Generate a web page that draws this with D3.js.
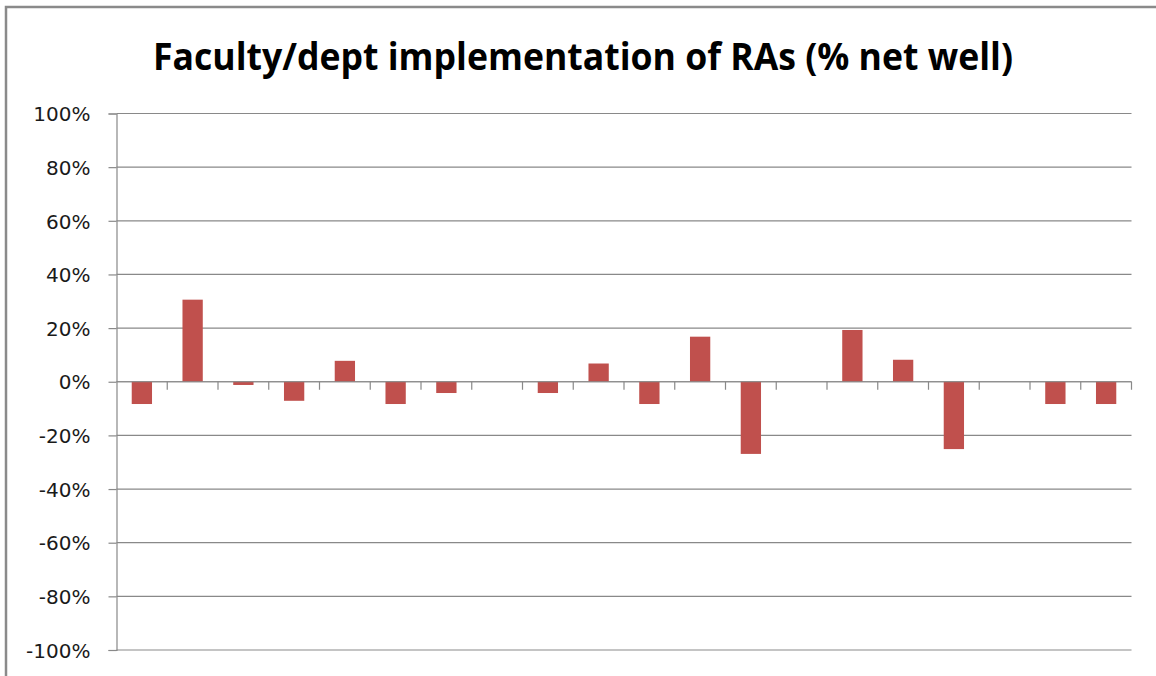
<!DOCTYPE html>
<html>
<head>
<meta charset="utf-8">
<script src="https://cdn.jsdelivr.net/npm/d3@7"></script>
<style>
  body { margin: 0; background: #fff; }
  svg { display: block; }
</style>
</head>
<body>
<div id="chart"></div>
<script>
// data
var categories = ["1","2","3","4","5","6","7","8","9","10","11","12","13","14","15","16","17","18","19","20"];
var netWell = [-8.3, 30.6, -1.2, -7.1, 7.8, -8.3, -4.2, 0, -4.2, 6.8, -8.3, 16.8, -26.9, 0, 19.3, 8.2, -25.1, 0, -8.3, -8.3];
var yTicks = [-100, -80, -60, -40, -20, 0, 20, 40, 60, 80, 100];
var chartTitle = "Faculty/dept implementation of RAs (% net well)";

var width = 1156, height = 676;
var margin = {top: 113.5, right: 24.5, bottom: 26, left: 116.5};

var svg = d3.select("#chart").append("svg")
    .attr("width", width)
    .attr("height", height);

// outer chart border (only top and left show in the crop)
svg.append("path")
    .attr("d", "M6,676 V7 H1156")
    .attr("fill", "none")
    .attr("stroke", "#8a8a8a")
    .attr("stroke-width", 2.5);

svg.append("text")
    .attr("x", 583)
    .attr("y", 70)
    .attr("text-anchor", "middle")
    .attr("font-family", "'Open Sans', 'DejaVu Sans', sans-serif")
    .attr("font-weight", "bold")
    .attr("font-size", "37px")
    .attr("fill", "#000")
    .attr("textLength", 860)
    .attr("lengthAdjust", "spacingAndGlyphs")
    .text(chartTitle);

var innerW = width - margin.left - margin.right,
    innerH = height - margin.top - margin.bottom;

var g = svg.append("g")
    .attr("transform", "translate(" + margin.left + "," + margin.top + ")");

var x = d3.scaleBand()
    .domain(categories)
    .range([0, innerW])
    .paddingInner(0.6)
    .paddingOuter(0.3);

var y = d3.scaleLinear()
    .domain([-100, 100])
    .range([innerH, 0]);

// gridlines
g.append("g")
  .selectAll("line")
  .data(yTicks)
  .enter().append("line")
    .attr("x1", 0)
    .attr("x2", innerW)
    .attr("y1", function(d) { return y(d); })
    .attr("y2", function(d) { return y(d); })
    .attr("stroke", "#898989")
    .attr("stroke-width", 1.2);

// y axis
var yAxis = g.append("g")
    .attr("class", "y-axis")
    .call(d3.axisLeft(y)
        .tickValues(yTicks)
        .tickSize(8)
        .tickPadding(18)
        .tickFormat(function(d) { return d + "%"; }));

yAxis.select(".domain").attr("stroke", "#898989").attr("stroke-width", 1.2);
yAxis.selectAll(".tick line").attr("stroke", "#898989").attr("stroke-width", 1.2);
yAxis.selectAll(".tick text")
    .attr("font-family", "'DejaVu Sans', sans-serif")
    .attr("font-size", "20px")
    .attr("fill", "#1a1a1a")
    .attr("dy", "0.36em");

// bars
g.selectAll(".bar")
    .data(netWell)
    .enter().append("rect")
      .attr("class", "bar")
      .attr("x", function(d, i) { return x(categories[i]); })
      .attr("width", x.bandwidth())
      .attr("y", function(d) { return y(Math.max(0, d)); })
      .attr("height", function(d) { return Math.abs(y(d) - y(0)); })
      .style("fill", "#C0504D");

// category axis along zero, ticks between categories
var step = x.step();
var boundaries = d3.range(categories.length + 1).map(function(i) { return i * step; });

g.append("line")
    .attr("x1", 0)
    .attr("x2", innerW)
    .attr("y1", y(0))
    .attr("y2", y(0))
    .attr("stroke", "#898989")
    .attr("stroke-width", 1.2);

g.append("g")
  .selectAll("line")
  .data(boundaries.slice(1))
  .enter().append("line")
    .attr("x1", function(d) { return d; })
    .attr("x2", function(d) { return d; })
    .attr("y1", y(0))
    .attr("y2", y(0) + 8)
    .attr("stroke", "#898989")
    .attr("stroke-width", 1.2);
</script>
</body>
</html>
